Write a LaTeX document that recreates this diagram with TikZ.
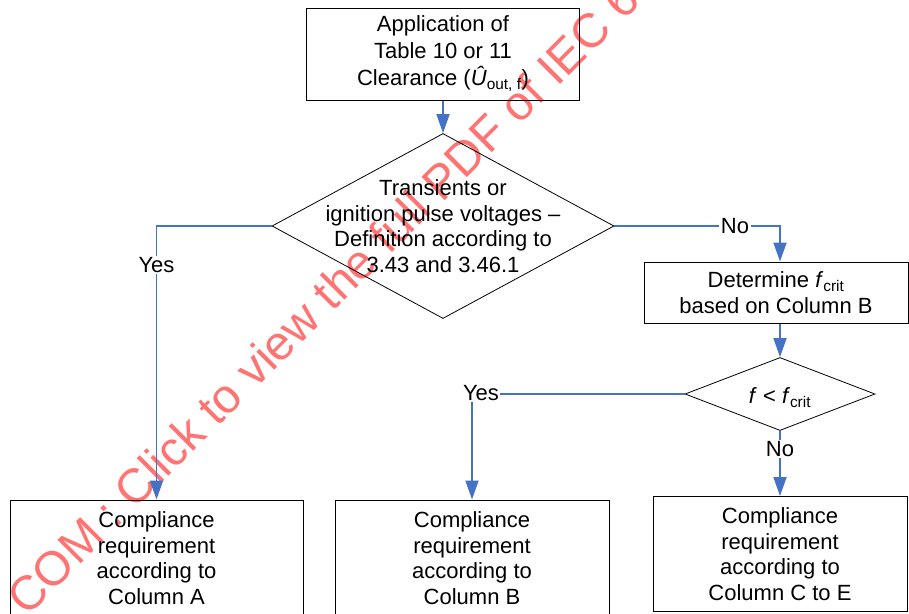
\documentclass[tikz,border=0pt]{standalone}
\usepackage{fontspec}
\setmainfont{Liberation Sans}
\usetikzlibrary{positioning, arrows.meta, shapes.geometric, calc}
\definecolor{flowblue}{RGB}{68,114,196}

\tikzset{
    box/.style={draw=black, line width=1pt, align=center, inner sep=0pt},   % plain process box
    decision/.style={diamond, draw=black, line width=0.8pt, inner sep=0pt}, % question diamond
    flow/.style={draw=flowblue, line width=1.8pt, -{Triangle[length=19pt, width=13pt]}},
    answer/.style={fill=white, inner sep=1.5pt}, % Yes / No sitting on a line
}

\begin{document}
\begin{tikzpicture}[x=1pt, y=-1pt, font=\fontsize{22}{25.5}\selectfont]
    \useasboundingbox (0,0) rectangle (909,613);

    % red stamp across the page, behind everything
    \node[
        rotate=45,
        anchor=base west,
        inner sep=0pt,
        text=red,
        text opacity=0.55,
        font=\fontsize{48}{48}\selectfont
    ] (stamp) at (27,618) {COM : Click to view the full PDF of IEC 6};

    % boxes and diamonds
    \node[box, minimum width=273pt, minimum height=92pt] (apply) at (443,54)
        {Application of\\[1.5pt]Table 10 or 11\\[1.5pt]Clearance (\textit{Û}\textsubscript{out, f})};
    \node[decision, minimum width=342pt, minimum height=185pt] (trans) at (443,226) {};
    \node[align=center, inner sep=0pt] (transtext) at (trans.center)
        {Transients or\\ignition pulse voltages –\\Definition according to\\3.43 and 3.46.1};
    \node[box, minimum width=264pt, minimum height=61pt] (fcrit) at (776,292.5)
        {Determine \textit{f}\textsubscript{crit}\\based on Column B};
    \node[decision, minimum width=190pt, minimum height=73pt] (freq) at (780,394) {};
    \node[inner sep=0pt] (freqtext) at (780,398) {\textit{f} < \textit{f}\textsubscript{crit}};

    \node[box, minimum width=293pt, minimum height=116pt] (colA) at (156.5,558)
        {Compliance\\requirement\\according to\\Column A};
    \node[box, minimum width=274pt, minimum height=116pt] (colB) at (472,558)
        {Compliance\\requirement\\according to\\Column B};
    \node[box, minimum width=254pt, minimum height=115pt] (colC) at (780,554)
        {Compliance\\requirement\\according to\\Column C to E};

    % connectors
    \draw[flow] (apply.south) -- (trans.north);
    \draw[flow] (trans.west) -| (colA.north);
    \draw[flow] (trans.east) -| (freq.north |- fcrit.north);
    \draw[flow] (fcrit.south -| freq.north) -- (freq.north);
    \draw[flow] (freq.west) -| (colB.north);
    \draw[flow] (freq.south) -- (colC.north);

    % answers on the lines
    \node[answer] (yesA) at (156.5,265) {Yes};
    \node[answer] (noF) at (735,226) {No};
    \node[answer] (yesB) at (481,393) {Yes};
    \node[answer] (noC) at (780,449) {No};
\end{tikzpicture}
\end{document}
